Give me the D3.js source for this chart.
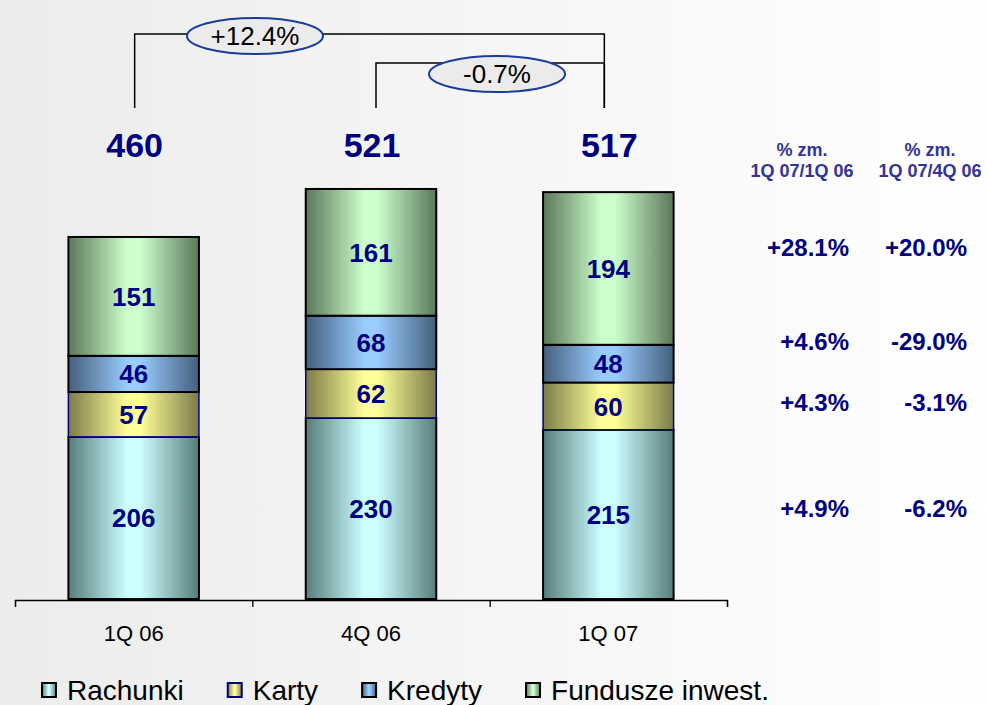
<!DOCTYPE html>
<html>
<head>
<meta charset="utf-8">
<script src="https://cdn.jsdelivr.net/npm/d3@7"></script>
<style>
  body { margin: 0; background: #fff; }
  svg { display: block; font-family: Arial, "Liberation Sans", sans-serif; }
</style>
</head>
<body>
<svg id="chart" width="987" height="705"></svg>
<script>
// data
const quarters = ["1Q 06", "4Q 06", "1Q 07"];
const seriesNames = ["Rachunki", "Karty", "Kredyty", "Fundusze inwest."];
const rachunki = [206, 230, 215];
const karty = [57, 62, 60];
const kredyty = [46, 68, 48];
const fundusze = [151, 161, 194];
const totals = [460, 521, 517];
const changeYoY = ["+4.9%", "+4.3%", "+4.6%", "+28.1%"];   // 1Q 07 / 1Q 06, per series
const changeQoQ = ["-6.2%", "-3.1%", "-29.0%", "+20.0%"];  // 1Q 07 / 4Q 06, per series
const headers = [["% zm.", "1Q 07/1Q 06"], ["% zm.", "1Q 07/4Q 06"]];
const brackets = [
  {from: 0, to: 2, label: "+12.4%"},
  {from: 1, to: 2, label: "-0.7%"}
];

const colors = [
  {light: "#ccffff", dark: "#587c7c", stroke: "#000"},
  {light: "#ffff99", dark: "#7c7c48", stroke: "#000080"},
  {light: "#99ccff", dark: "#445f7c", stroke: "#000"},
  {light: "#ccffcc", dark: "#5b775b", stroke: "#000"}
];

const svg = d3.select("#chart");
const navy = "#000080";

// background
const defs = svg.append("defs");
const bg = defs.append("linearGradient").attr("id", "bg")
    .attr("x1", "0%").attr("y1", "0%").attr("x2", "100%").attr("y2", "0%");
bg.append("stop").attr("offset", "0%").attr("stop-color", "#ececec");
bg.append("stop").attr("offset", "100%").attr("stop-color", "#ffffff");
svg.append("rect").attr("width", 987).attr("height", 705).attr("fill", "url(#bg)");

colors.forEach((c, i) => {
  const g = defs.append("linearGradient").attr("id", "g" + i)
      .attr("x1", "0%").attr("y1", "0%").attr("x2", "100%").attr("y2", "0%");
  g.append("stop").attr("offset", "0%").attr("stop-color", c.dark);
  g.append("stop").attr("offset", "45%").attr("stop-color", c.light);
  g.append("stop").attr("offset", "55%").attr("stop-color", c.light);
  g.append("stop").attr("offset", "100%").attr("stop-color", c.dark);
});

const x = d3.scaleBand()
    .domain(quarters)
    .range([15, 727])
    .paddingInner(0.45)
    .paddingOuter(0.225);

const y = d3.scaleLinear()
    .domain([0, 600])
    .range([599, 599 - 600 * 0.787]);

const values = [rachunki, karty, kredyty, fundusze];
const table = quarters.map((q, i) => {
  const row = {q};
  seriesNames.forEach((s, k) => row[s] = values[k][i]);
  return row;
});
const stacked = d3.stack().keys(seriesNames)(table);

// bars
const layer = svg.append("g").selectAll("g")
  .data(stacked)
  .join("g")
    .attr("fill", (d, i) => `url(#g${i})`)
    .attr("stroke", (d, i) => colors[i].stroke)
    .attr("stroke-width", (d, i) => i === 1 ? 1.5 : 2);

layer.selectAll("rect")
  .data(d => d)
  .join("rect")
    .attr("x", d => x(d.data.q))
    .attr("y", d => y(d[1]))
    .attr("width", x.bandwidth())
    .attr("height", d => y(d[0]) - y(d[1]));

// segment labels
svg.append("g")
    .attr("fill", navy)
    .attr("font-weight", "bold")
    .attr("font-size", 26)
    .attr("text-anchor", "middle")
  .selectAll("text")
  .data(stacked.flatMap(s => s.map(d => d)))
  .join("text")
    .attr("x", d => x(d.data.q) + x.bandwidth() / 2)
    .attr("y", d => (y(d[0]) + y(d[1])) / 2)
    .attr("dy", "0.36em")
    .text(d => d[1] - d[0]);

// totals
svg.append("g")
    .attr("fill", navy)
    .attr("font-weight", "bold")
    .attr("font-size", 34)
    .attr("text-anchor", "middle")
  .selectAll("text")
  .data(quarters)
  .join("text")
    .attr("x", d => x(d) + x.bandwidth() / 2 + 1)
    .attr("y", 157)
    .text((d, i) => totals[i]);

// x axis: line with ticks at band boundaries, labels under bars
const edges = d3.scaleLinear().domain([0, quarters.length]).range([15, 727]);
svg.append("g")
    .attr("transform", "translate(0,600)")
    .call(d3.axisBottom(edges).ticks(quarters.length).tickFormat("").tickSize(7).tickSizeOuter(7))
    .call(g => g.selectAll("line, path").attr("stroke", "#000").attr("stroke-width", 1.3));

svg.append("g")
    .attr("transform", "translate(0,600)")
    .call(d3.axisBottom(x).tickSize(0).tickPadding(25))
    .call(g => g.select(".domain").remove())
    .call(g => g.selectAll("text")
        .attr("font-size", 22)
        .attr("font-family", "Arial, 'Liberation Sans', sans-serif")
        .attr("fill", "#000"));

// brackets with ellipses
const cx = q => x(quarters[q]) + x.bandwidth() / 2;
const bracketY = [34, 63];
const bracketBottom = 108;
brackets.forEach((b, i) => {
  const x0 = cx(b.from) + 1 + i * 4, x1 = cx(b.to) - 4, yy = bracketY[i];
  svg.append("path")
      .attr("d", `M${x0},${bracketBottom}V${yy}H${x1}V${bracketBottom}`)
      .attr("fill", "none")
      .attr("stroke", "#000")
      .attr("stroke-width", 1.5);
});
const ellipseAt = [{x: 255, y: 36}, {x: 497, y: 74}];
brackets.forEach((b, i) => {
  const e = ellipseAt[i];
  svg.append("ellipse")
      .attr("cx", e.x).attr("cy", e.y)
      .attr("rx", 68).attr("ry", 18)
      .attr("fill", "#ebebeb")
      .attr("stroke", "#1c3c9c")
      .attr("stroke-width", 2);
  svg.append("text")
      .attr("x", e.x).attr("y", e.y)
      .attr("dy", "0.36em")
      .attr("text-anchor", "middle")
      .attr("font-size", 26)
      .attr("fill", "#000")
      .text(b.label);
});

// change table on the right
const colRight = [849, 967];
const colCenter = [802, 930];
headers.forEach((h, c) => {
  svg.append("text")
      .attr("x", colCenter[c])
      .attr("text-anchor", "middle")
      .attr("font-weight", "bold")
      .attr("font-size", 18)
      .attr("fill", "#333399")
    .selectAll("tspan")
    .data(h)
    .join("tspan")
      .attr("x", colCenter[c])
      .attr("y", (d, i) => 156 + i * 21)
      .text(d => d);
});

const rowY = [508, 402, 341, 247];
[changeYoY, changeQoQ].forEach((col, c) => {
  svg.append("g")
      .attr("fill", navy)
      .attr("font-weight", "bold")
      .attr("font-size", 24)
      .attr("text-anchor", "end")
    .selectAll("text")
    .data(col)
    .join("text")
      .attr("x", colRight[c])
      .attr("y", (d, i) => rowY[i])
      .attr("dy", "0.36em")
      .text(d => d);
});

// legend
const legend = svg.append("g").attr("transform", "translate(42,683)");
let lx = 0;
seriesNames.forEach((s, i) => {
  const g = legend.append("g").attr("transform", `translate(${lx},0)`);
  g.append("rect")
      .attr("width", 14).attr("height", 14)
      .attr("fill", `url(#g${i})`)
      .attr("stroke", i === 1 ? navy : "#000")
      .attr("stroke-width", 2);
  const t = g.append("text")
      .attr("x", 25).attr("y", 17)
      .attr("font-size", 28)
      .attr("fill", "#000")
      .text(s);
  lx += 25 + t.node().getComputedTextLength() + 44;
});
</script>
</body>
</html>
